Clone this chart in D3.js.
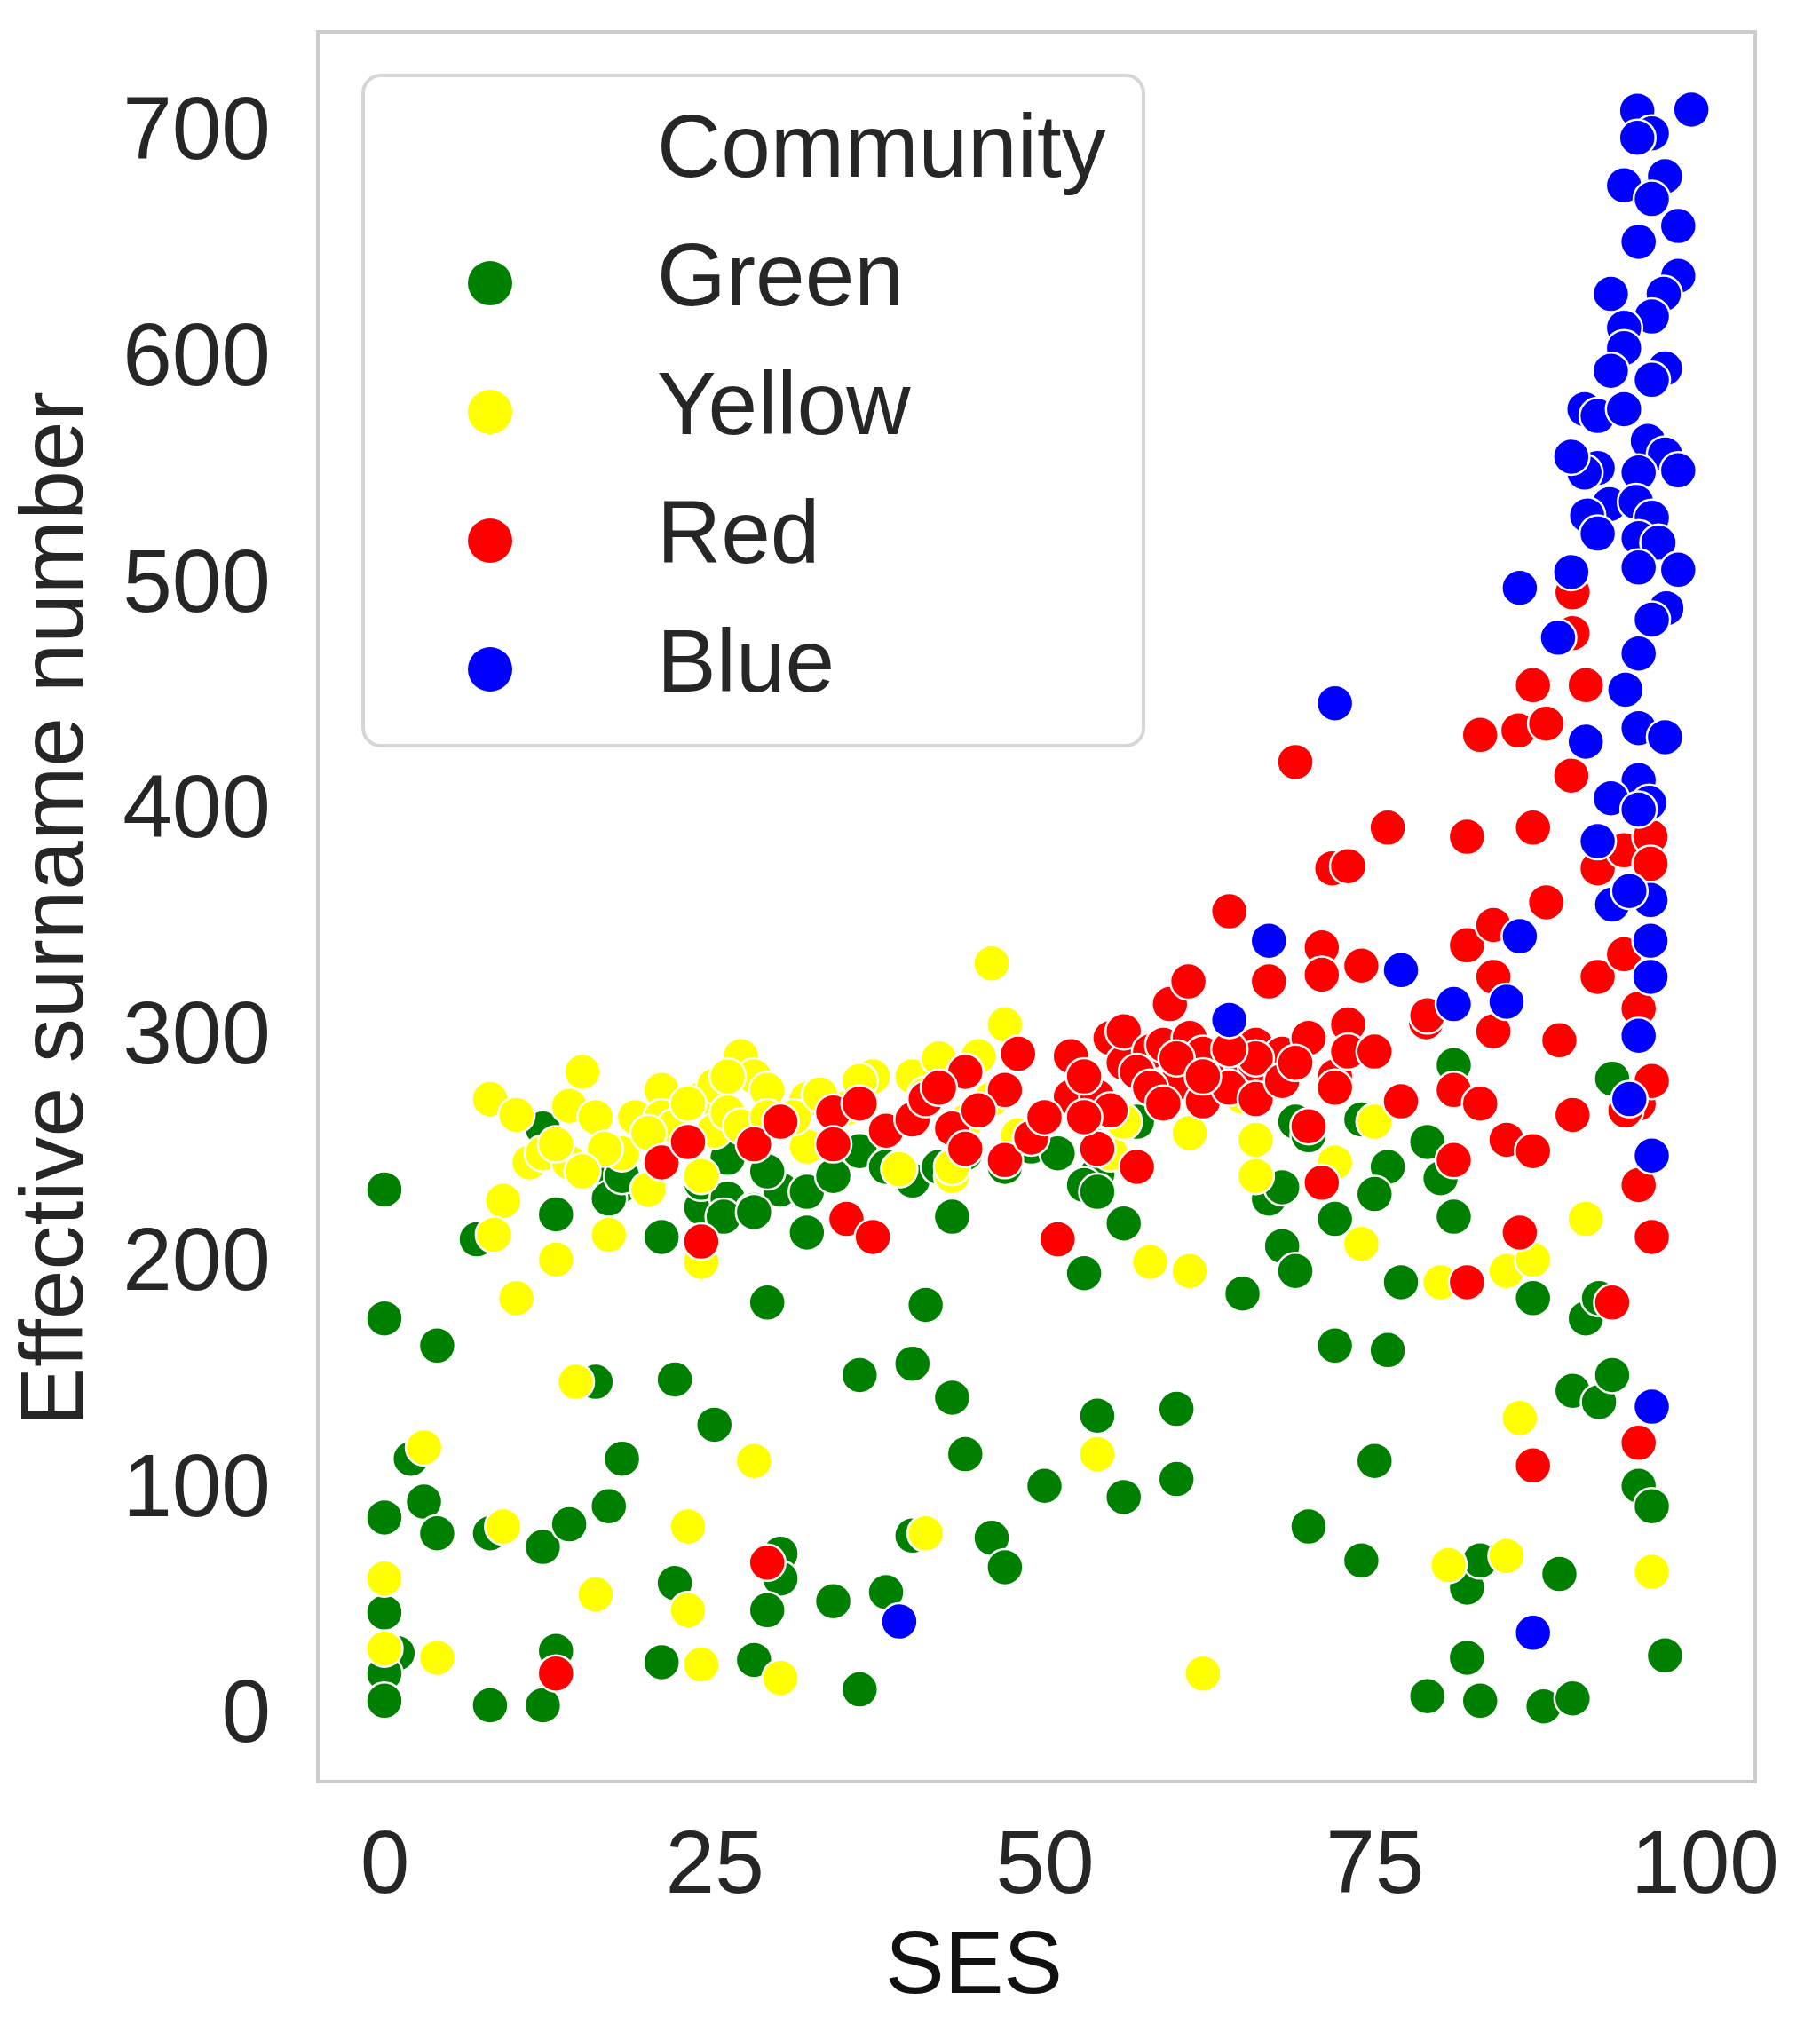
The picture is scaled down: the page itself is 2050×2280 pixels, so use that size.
<!DOCTYPE html>
<html>
<head>
<meta charset="utf-8">
<script src="https://cdn.jsdelivr.net/npm/d3@7"></script>
<style>
  body { margin: 0; background: #fff; }
  svg { display: block; }
  text { font-family: "Liberation Sans", Arial, sans-serif; }
</style>
</head>
<body>
<div class="chart"></div>
<script>
// [SES, effective surname number]
const green = [
  [0,230],[0,173],[4,161],[0,85],[3,92],[4,78],[2,111],[0,43],[1,25],[0,16],[0,4],
  [7,208],[8,78],[8,2],[12,2],[12,72],[13,26],[14,82],[13,219],[12,257],[16,145],[17,90],[18,111],
  [21,209],[22,146],[22,56],[21,21],[25,126],[28,22],[29,180],[30,69],[30,58],[29,44],[34,48],
  [36,9],[36,148],[38,52],[40,153],[40,77],[41,179],[43,138],[44,113],[43,218],[46,76],[47,63],
  [50,99],[53,193],[54,130],[56,94],[56,215],[60,133],[60,102],[65,184],[68,205],[69,194],
  [70,81],[72,161],[74,66],[75,110],[76,159],[77,189],[79,6],[82,23],[82,54],[83,66],[83,4],
  [87,182],[87.8,1.5],[89,60],[90,5],[90,141],[92,136],[93,148],[91,173],[92,182],[95,99],[96,90],[97,24],
  [72,217],[81,218],[80,235],[79,251],[76,240],[75,228],[74,261],[81,285],[93,279],[57,260],
  [17,233],[18,232],[17,226],[18,236],[24,222],[24,233],[26,244],[26,226],[28,221],[30,230],
  [32,211],[29,238],[25.7,218],[28,220],[32,229],[34,236],[36,247],[38,240],[40,234],[42,240],
  [44,246],[47,240],[49,249],[51,246],[54,237],[54,249],[69,260],[70,254],[67,226],[68,231],
  [53,232],[54,229]
];
const yellow = [
  [0,58],[0,27],[3,116],[4,23],[9,81],[8,270],[10,263],[9,225],[8.3,210],[10,182],[13,199],
  [14,267],[15,282],[11,242],[12,246],[14,242],[14.5,145],[16,51],[16,262],[17,210],[18,246],
  [16.7,248],[19,262],[20,230],[21,274],[21,262],[23,81],[23,44],[24,20],[24,198],[24,236],
  [24,270],[25,276],[25,256],[26,264],[27,289],[28,110],[28,280],[29,274],[30,14],[32,270],
  [32,249],[37,280],[39,239],[40,280],[41,78],[42,288],[43,236],[45,289],[46,330],[47,303],
  [44,260],[48,254],[55,246],[54,113],[58,198],[61,194],[61,255],[62,16],[65,271],[66,252],
  [66,236],[72,242],[74,206],[75,260],[80,189],[80.6,64],[85,194],[87,199],[86,129],[85,68],
  [91,217],[96,61],[56,260],[35,266],[38,257],[31,262],[27,258],[22,258],[13,250],[15,238],
  [43,240],[23,268],[26,280],[33,272],[36,278],[41,272],[44,282],[46,270],[20,255],[29,262]
];
const red = [
  [13,16],[24,207],[29,65],[35,217],[37,209],[21,242],[23,251],[28,250],[30,260],[34,264],
  [34,250],[38,256],[40,261],[41,270],[43,257],[44,282],[44,248],[47,274],[47,243],[48,290],
  [49,253],[51,208],[52,289],[52,271],[54,271],[54,248],[55,297],[56,286],[56,300],[57,240],
  [58,291],[59,294],[59.5,312],[60.9,322],[61,297],[60,277],[62,269],[63,284],[64,353],[65,283],
  [66,294],[66,285],[67,322],[68,290],[69,419],[70,297],[70,258],[71,337],[71,233],[71.8,372],
  [73,373],[72,280],[73,303],[73,291],[74,329],[71,325],[75,291],[76,390],[77,269],[78.9,304],
  [79,307],[81,274],[81,243],[82,386],[82,338],[83,431],[82,189],[84,347],[84,300],[84,324],
  [83,268],[85,252],[86,211],[85.9,433],[87,453],[87,390],[87,247],[87,108],[88,357],[88,436],
  [89,296],[90,494],[90,476],[91,453],[89.9,413],[90,263],[91.9,372],[91.9,324],[93.9,334],
  [93.9,380],[93,180],[95,310],[95,268],[95,232],[95,118],[95.9,386],[95.9,374],[96,278],[96,209],
  [72,275],[66,288],[64,275],[62,290],[57,282],[50,262],[53,280],[45,265],[42,275],[36,268],
  [94,265],[58,275],[60,288],[62,280],[64,292],[66,270],[68,278],[69,286],[55,265],[53,262],[59,268]
];
const blue = [
  [99,707.5],[94.9,707],[96,697],[94.9,695],[93.9,674],[97,678],[96,668],[98,656],[95,649],
  [98,634],[96.9,626],[92.9,626],[96,616],[93.9,611],[93.9,602],[92.9,592],[97,593],[96,588],
  [90.9,575],[91.9,572],[93.9,575],[95.7,561],[97,555],[98,548],[95,547],[91.9,549],[90.9,547],
  [89.9,554],[92.8,533],[94.8,534],[96,527],[91.1,528],[91.9,520],[95,518],[96.5,516],[89.9,503],
  [95,505],[98,504],[86,496],[97.1,487],[96,482],[88.9,474],[95,467],
  [72,445],[94,451],[91,428],[95,434],[97,430],[95,411],[92.9,403],[95.8,401],[95,398],[91.9,384],
  [93,356],[95.9,358],[94.3,362],[67,340],[77,327],[86,342],[85,313],[81,312],[64,305],[95.9,340],
  [95.9,324],[95,298],[94.3,270],[96,245],[96,134],[87,34],[39,39]
];

const communities = ["Green", "Yellow", "Red", "Blue"];
const seriesData = [green, yellow, red, blue];
const colors = ["#008000", "#ffff00", "#ff0000", "#0000ff"];
const xTicks = [0, 25, 50, 75, 100];
const yTicks = [0, 100, 200, 300, 400, 500, 600, 700];

const width = 2050, height = 2280;
const frame = { left: 358, right: 1977, top: 36, bottom: 2007 };
const ink = "#262626";

const x = d3.scaleLinear()
  .domain([-5.04, 103.83])
  .range([frame.left, frame.right]);

const y = d3.scaleLinear()
  .domain([-31.8, 741.8])
  .range([frame.bottom, frame.top]);

const svg = d3.select(".chart")
  .append("svg")
  .attr("width", width)
  .attr("height", height)
  .attr("viewBox", [0, 0, width, height]);

svg.append("rect")
  .attr("width", width).attr("height", height)
  .attr("fill", "#fff");

// points, one layer per community
communities.forEach((name, i) => {
  svg.append("g")
    .attr("fill", colors[i])
    .attr("stroke", "#fff")
    .attr("stroke-width", 2.5)
    .selectAll("circle")
    .data(seriesData[i])
    .join("circle")
    .attr("cx", d => x(d[0]))
    .attr("cy", d => y(d[1]))
    .attr("r", 20.5);
});

// axes frame
svg.append("rect")
  .attr("x", frame.left).attr("y", frame.top)
  .attr("width", frame.right - frame.left)
  .attr("height", frame.bottom - frame.top)
  .attr("fill", "none")
  .attr("stroke", "#cccccc")
  .attr("stroke-width", 4);

svg.append("g")
  .attr("transform", `translate(0,${frame.bottom})`)
  .call(d3.axisBottom(x).tickValues(xTicks).tickSize(0).tickPadding(54))
  .call(g => g.select(".domain").remove())
  .call(g => g.selectAll("text")
    .attr("fill", ink)
    .style("font", '100px "Liberation Sans", Arial, sans-serif'));

svg.append("g")
  .attr("transform", `translate(${frame.left},0)`)
  .call(d3.axisLeft(y).tickValues(yTicks).tickSize(0).tickPadding(53))
  .call(g => g.select(".domain").remove())
  .call(g => g.selectAll("text")
    .attr("dy", "0.36em")
    .attr("fill", ink)
    .style("font", '100px "Liberation Sans", Arial, sans-serif'));

// axis labels
svg.append("text")
  .attr("x", 1097).attr("y", 2245)
  .attr("text-anchor", "middle")
  .attr("fill", "#111")
  .style("font-size", "100px")
  .text("SES");

svg.append("text")
  .attr("transform", "translate(93,1024) rotate(-90)")
  .attr("text-anchor", "middle")
  .attr("fill", ink)
  .style("font-size", "100px")
  .text("Effective surname number");

// legend
const legend = svg.append("g");
legend.append("rect")
  .attr("x", 409).attr("y", 85)
  .attr("width", 879).attr("height", 755)
  .attr("rx", 20)
  .attr("fill", "#fff")
  .attr("fill-opacity", 0.8)
  .attr("stroke", "#d6d6d6")
  .attr("stroke-width", 4);

legend.append("text")
  .attr("x", 740).attr("y", 199)
  .attr("fill", ink)
  .style("font-size", "100px")
  .text("Community");

const item = legend.selectAll("g.item")
  .data(communities)
  .join("g")
  .attr("class", "item")
  .attr("transform", (_, i) => `translate(0,${344 + i * 145})`);

item.append("circle")
  .attr("cx", 552).attr("cy", -25)
  .attr("r", 25)
  .attr("fill", (_, i) => colors[i]);

item.append("text")
  .attr("x", 740)
  .attr("fill", ink)
  .style("font-size", "100px")
  .text(d => d);
</script>
</body>
</html>
